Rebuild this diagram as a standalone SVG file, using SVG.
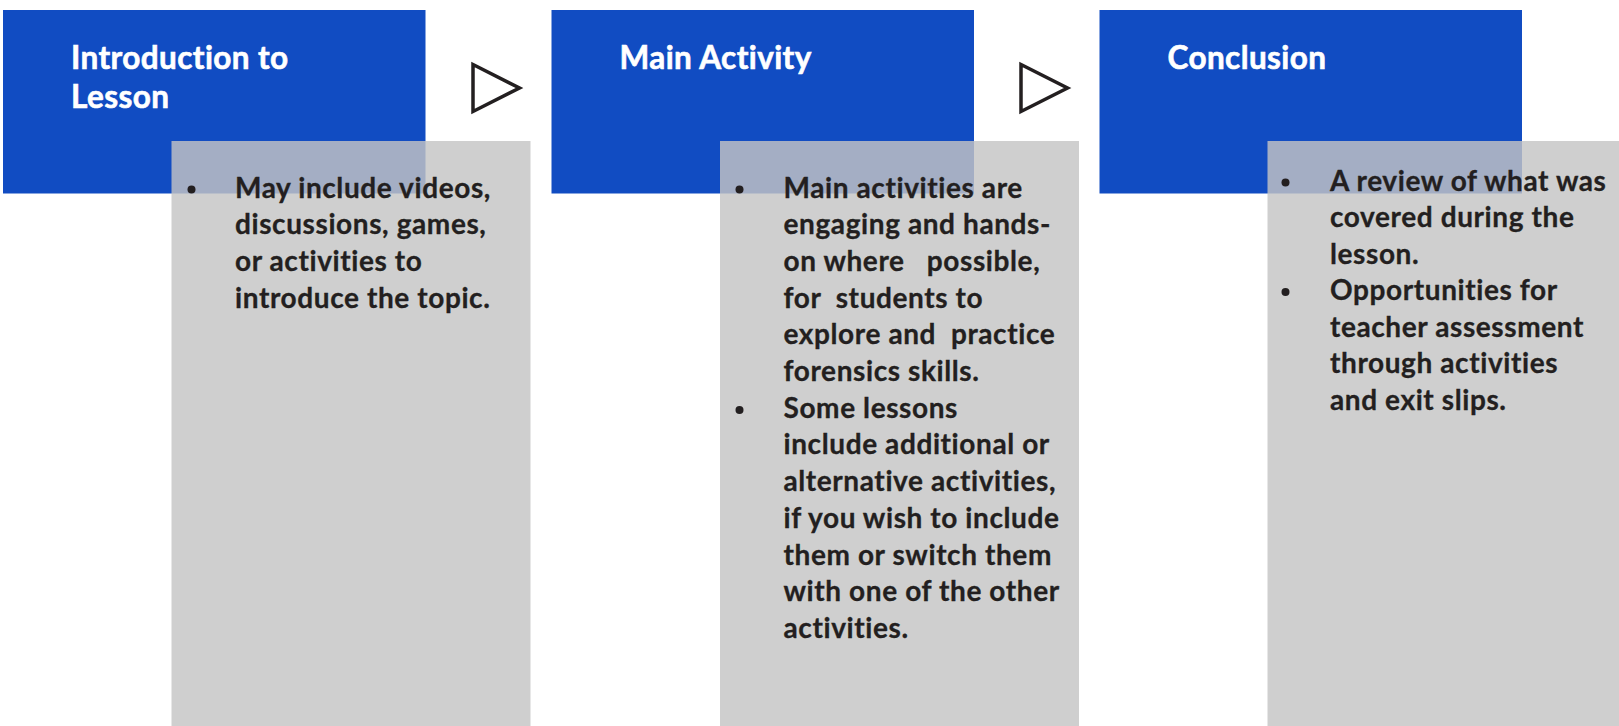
<svg xmlns="http://www.w3.org/2000/svg" width="1619" height="726" viewBox="0 0 1619 726">
<style>
.hdr{fill:#114CC2}
.card{fill:#C4C4C4;fill-opacity:0.82}
.title{font-family:Lato,"Liberation Sans",sans-serif;font-weight:700;font-size:31.5px;fill:#FFFFFF;stroke:#FFFFFF;stroke-width:0.6px;letter-spacing:0.4px}
.body{font-family:Lato,"Liberation Sans",sans-serif;font-weight:700;font-size:28px;fill:#231F20;stroke:#231F20;stroke-width:0.3px;letter-spacing:0.6px;white-space:pre}
.dot{fill:#231F20}
.arrow{fill:none;stroke:#231F20;stroke-width:3.5;stroke-linejoin:miter}
</style>
<rect width="1619" height="726" fill="#FFFFFF"/>
<g id="node-intro">
<rect class="hdr" x="3" y="10" width="422.5" height="183.5"/>
<text class="title"><tspan x="71" y="68.5">Introduction to</tspan><tspan x="71" y="107.5">Lesson</tspan></text>
</g>
<g id="node-main">
<rect class="hdr" x="551.5" y="10" width="422.5" height="183.5"/>
<text class="title" x="619.5" y="68.5">Main Activity</text>
</g>
<g id="node-conclusion">
<rect class="hdr" x="1099.5" y="10" width="422.5" height="183.5"/>
<text class="title" x="1167.5" y="68.5">Conclusion</text>
</g>
<g id="detail-intro">
<rect class="card" x="171.5" y="141" width="359" height="585"/>
<circle class="dot" cx="191.5" cy="189.5" r="4"/>
<text class="body"><tspan x="235" y="197.5">May include videos,</tspan><tspan x="235" y="234.2">discussions, games,</tspan><tspan x="235" y="270.9">or activities to</tspan><tspan x="235" y="307.6">introduce the topic.</tspan></text>
</g>
<g id="detail-main">
<rect class="card" x="720" y="141" width="359" height="585"/>
<circle class="dot" cx="739.5" cy="189.5" r="4"/>
<text class="body"><tspan x="783.5" y="197.5">Main activities are</tspan><tspan x="783.5" y="234.2">engaging and hands-</tspan><tspan x="783.5" y="270.9">on where   possible,</tspan><tspan x="783.5" y="307.6">for  students to</tspan><tspan x="783.5" y="344.3">explore and  practice</tspan><tspan x="783.5" y="381">forensics skills.</tspan></text>
<circle class="dot" cx="739.5" cy="410" r="4"/>
<text class="body"><tspan x="783.5" y="417.7">Some lessons</tspan><tspan x="783.5" y="454.4">include additional or</tspan><tspan x="783.5" y="491.1">alternative activities,</tspan><tspan x="783.5" y="527.8">if you wish to include</tspan><tspan x="783.5" y="564.5">them or switch them</tspan><tspan x="783.5" y="601.2">with one of the other</tspan><tspan x="783.5" y="637.9">activities.</tspan></text>
</g>
<g id="detail-conclusion">
<rect class="card" x="1267.5" y="141" width="359" height="585"/>
<circle class="dot" cx="1285.5" cy="182.5" r="4"/>
<text class="body"><tspan x="1330" y="190.5">A review of what was</tspan><tspan x="1330" y="227">covered during the</tspan><tspan x="1330" y="263.5">lesson.</tspan></text>
<circle class="dot" cx="1285.5" cy="292" r="4"/>
<text class="body"><tspan x="1330" y="300">Opportunities for</tspan><tspan x="1330" y="336.5">teacher assessment</tspan><tspan x="1330" y="373">through activities</tspan><tspan x="1330" y="409.5">and exit slips.</tspan></text>
</g>
<g id="connectors">
<polygon class="arrow" points="473,64.5 519.5,88 473,111.5"/>
<polygon class="arrow" points="1021,64.5 1067.5,88 1021,111.5"/>
</g>
</svg>
